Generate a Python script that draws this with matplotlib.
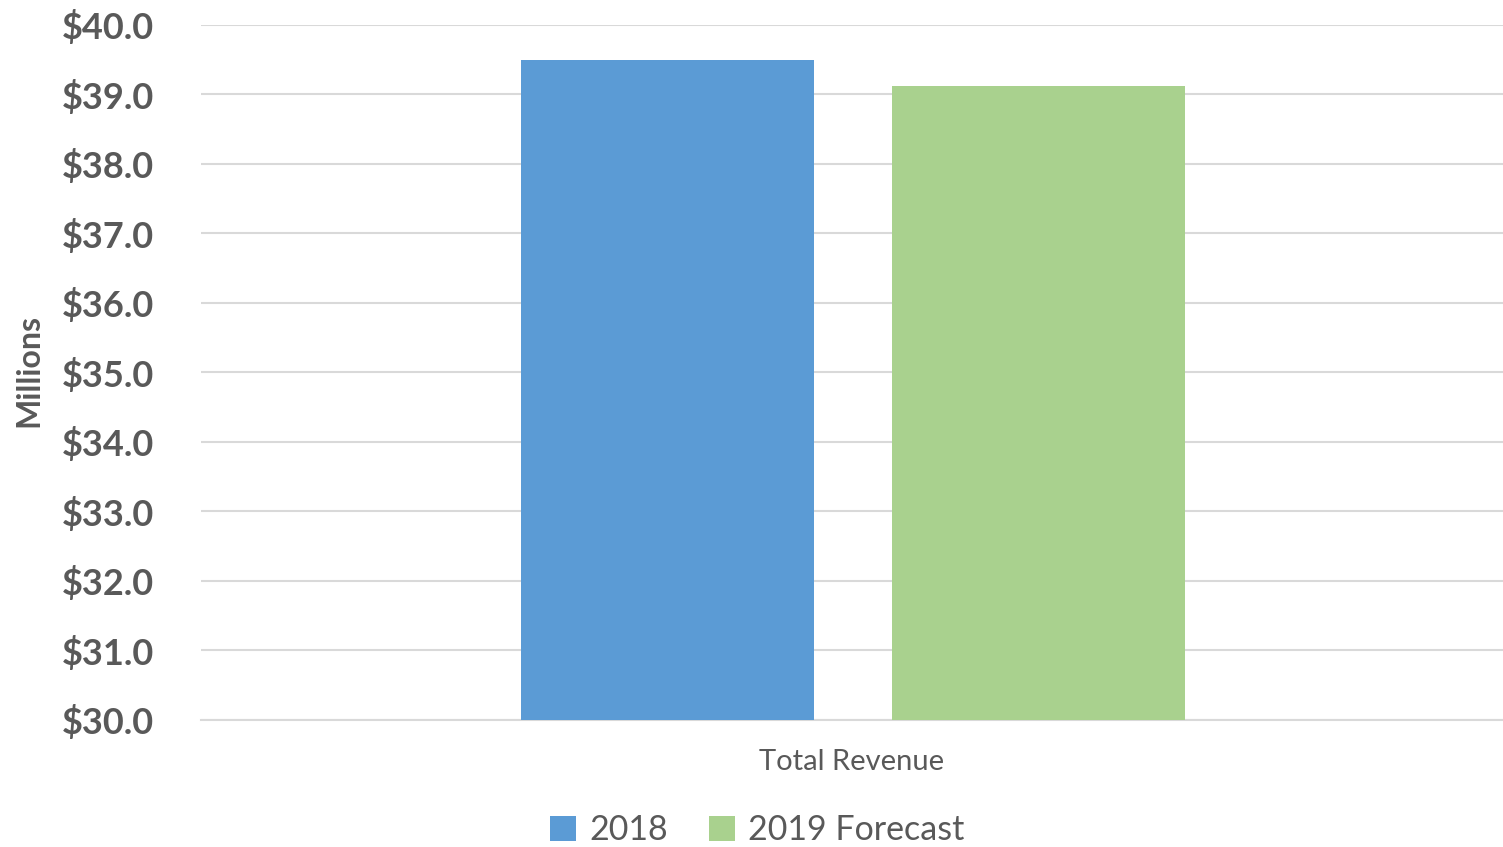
import matplotlib
matplotlib.use("Agg")
import matplotlib.pyplot as plt
from matplotlib.patches import Patch
import numpy as np

categories = ["Total Revenue"]
series_names = ["2018", "2019 Forecast"]
values_2018 = [39.5]
values_2019 = [39.12]
yticks = [30, 31, 32, 33, 34, 35, 36, 37, 38, 39, 40]

colors = ["#5B9BD5", "#A9D18E"]
text_color = "#595959"
grid_color = "#D9D9D9"

plt.rcParams["font.family"] = ["Lato", "DejaVu Sans"]

fig = plt.figure(figsize=(15.03, 8.47), dpi=100)
ax = fig.add_axes([0.1337, 0.150, 0.8663, 0.8205])

x = np.arange(len(categories))
width = 0.225
ax.bar(x - 0.1417, values_2018, width, color=colors[0], zorder=3)
ax.bar(x + 0.1432, values_2019, width, color=colors[1], zorder=3)

ax.set_xlim(-0.5, 0.5)
ax.set_ylim(30, 40)
ax.set_yticks(yticks)
ax.set_yticklabels([f"${v:.1f}" for v in yticks], fontsize=26, fontweight="bold", color=text_color)
ax.set_xticks(x)
ax.set_xticklabels(categories, fontsize=21, color=text_color)
ax.tick_params(axis="both", length=0)
ax.tick_params(axis="y", pad=34)
ax.tick_params(axis="x", pad=21)
ax.yaxis.grid(True, color=grid_color, linewidth=1.5, zorder=0)
for s in ["top", "right", "left"]:
    ax.spines[s].set_visible(False)
ax.spines["bottom"].set_color(grid_color)
ax.spines["bottom"].set_linewidth(1.5)

fig.text(0.019, 0.563, "Millions", rotation=90, fontsize=23, fontweight="bold",
         color=text_color, ha="center", va="center")

handles = [Patch(facecolor=c, edgecolor="none") for c in colors]
leg = fig.legend(handles, series_names, loc="center", bbox_to_anchor=(0.504, 0.020),
                 ncol=2, frameon=False, fontsize=24.5, handlelength=0.75, handleheight=0.75,
                 handletextpad=0.4, columnspacing=1.2, labelcolor=text_color)

fig.savefig("out.png", dpi=100, facecolor="white")
